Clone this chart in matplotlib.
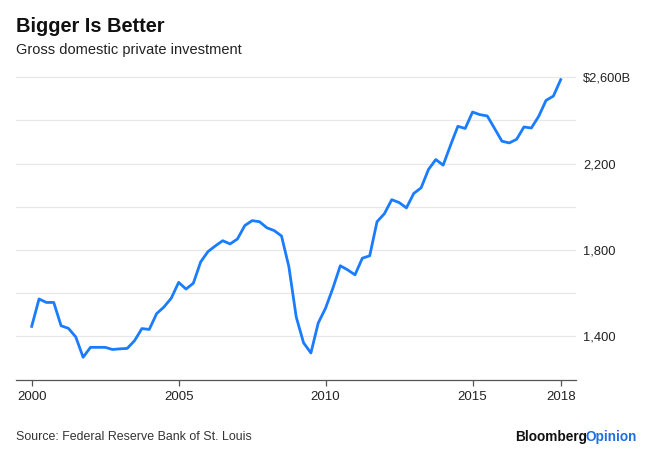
import matplotlib
matplotlib.use("Agg")
import matplotlib.pyplot as plt
from matplotlib.ticker import FixedLocator, FixedFormatter

# Quarterly data, 2000Q1 .. 2018Q1 (billions of dollars)
start_year = 2000
values = [
    1446, 1573, 1557, 1557,   # 2000
    1449, 1437, 1397, 1303,   # 2001
    1349, 1349, 1349, 1339,   # 2002
    1342, 1344, 1380, 1436,   # 2003
    1432, 1505, 1536, 1577,   # 2004
    1650, 1619, 1646, 1745,   # 2005
    1793, 1819, 1843, 1828,   # 2006
    1851, 1913, 1936, 1931,   # 2007
    1903, 1890, 1865, 1723,   # 2008
    1490, 1370, 1323, 1462,   # 2009
    1531, 1624, 1727, 1708,   # 2010
    1685, 1762, 1773, 1931,   # 2011
    1968, 2033, 2020, 1995,   # 2012
    2062, 2088, 2173, 2219,   # 2013
    2193, 2285, 2373, 2363,   # 2014
    2439, 2427, 2421, 2363,   # 2015
    2304, 2296, 2313, 2370,   # 2016
    2365, 2419, 2493, 2513,   # 2017
    2589,                     # 2018
]
x_ticks = [2000, 2005, 2010, 2015, 2018]
x_tick_labels = ["2000", "2005", "2010", "2015", "2018"]
y_grid = [1400, 1600, 1800, 2000, 2200, 2400, 2600]
y_tick_labels = ["1,400", "", "1,800", "", "2,200", "", "$2,600B"]

title = "Bigger Is Better"
subtitle = "Gross domestic private investment"
source = "Source: Federal Reserve Bank of St. Louis"

dates = [start_year + i / 4 for i in range(len(values))]

plt.rcParams['font.family'] = ['Liberation Sans', 'DejaVu Sans']

W, H = 650, 451
fig = plt.figure(figsize=(6.5, 4.51), dpi=100)
ax = fig.add_axes([16/W, 1 - 379.5/H, (576 - 16)/W, (379.5 - 65)/H])

ax.plot(dates, values, color="#1a7cff", lw=2.0, solid_joinstyle="round", zorder=3)

ax.set_xlim(1999.466, 2018.52)
ax.set_ylim(1200, 2657)

ax.yaxis.tick_right()
ax.yaxis.set_major_locator(FixedLocator(y_grid))
ax.yaxis.set_major_formatter(FixedFormatter(y_tick_labels))
ax.tick_params(axis="y", length=0, pad=5, labelsize=9.3, labelcolor="#222222")
ax.grid(axis="y", color="#e8e8e8", lw=0.9, zorder=0)

ax.set_xticks(x_ticks)
ax.set_xticklabels(x_tick_labels)
ax.tick_params(axis="x", length=4, width=0.9, color="#555555", pad=4.5,
               labelsize=9.5, labelcolor="#222222")

for s in ["top", "right", "left"]:
    ax.spines[s].set_visible(False)
ax.spines["bottom"].set_color("#555555")
ax.spines["bottom"].set_linewidth(0.9)

fig.text(16/W, 1 - 31.7/H, title, fontsize=14.4, fontweight="bold",
         va="baseline", ha="left", color="#111111")
fig.text(16/W, 1 - 54/H, subtitle, fontsize=10.5,
         va="baseline", ha="left", color="#222222")
fig.text(16/W, 1 - 440.5/H, source, fontsize=8.9,
         va="baseline", ha="left", color="#333333")

t1 = fig.text(0.0, 1 - 440.5/H, "Bloomberg", fontsize=9.8, fontweight="bold",
              va="baseline", ha="left", color="#111111")
t2 = fig.text(0.0, 1 - 440.5/H, "Opinion", fontsize=9.8, fontweight="bold",
              va="baseline", ha="left", color="#1f6fe0")
fig.canvas.draw()
r = fig.canvas.get_renderer()
w1 = t1.get_window_extent(renderer=r).width
w2 = t2.get_window_extent(renderer=r).width
right_px = 637
left_px = right_px - (w1 + w2) + 1
t1.set_x(left_px / W)
t2.set_x((left_px + w1 - 1) / W)

fig.savefig("out.png", dpi=100)
